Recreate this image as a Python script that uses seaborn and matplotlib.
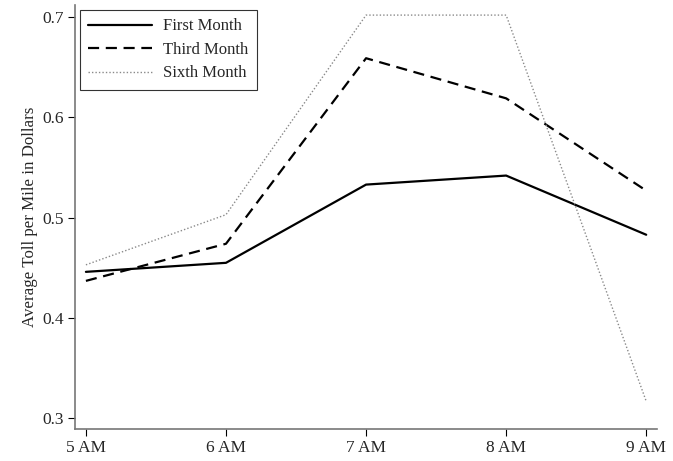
import pandas as pd
import matplotlib.pyplot as plt
import seaborn as sns

# values
hours = ["5 AM", "6 AM", "7 AM", "8 AM", "9 AM"]
first_month = [0.446, 0.455, 0.533, 0.542, 0.483]
third_month = [0.437, 0.474, 0.659, 0.619, 0.527]
sixth_month = [0.453, 0.503, 0.702, 0.702, 0.317]
series_names = ["First Month", "Third Month", "Sixth Month"]

df = pd.DataFrame({
    "hour": list(range(len(hours))) * 3,
    "toll": first_month + third_month + sixth_month,
    "series": [s for s in series_names for _ in hours],
})

sns.set_style("ticks")
plt.rcParams["font.family"] = ["Liberation Serif", "DejaVu Serif"]

fig = plt.figure(figsize=(6.73, 4.61), dpi=100)
ax = fig.add_axes([0.111, 0.0694, 0.865, 0.9196])

styles = {
    "First Month": dict(color="black", ls="-", lw=1.6),
    "Third Month": dict(color="black", ls=(0, (5, 3)), lw=1.6),
    "Sixth Month": dict(color="#8a8a8a", ls=(0, (1, 1.5)), lw=1.0),
}
for name in series_names:
    sub = df[df["series"] == name]
    sns.lineplot(data=sub, x="hour", y="toll", ax=ax, label=name, **styles[name])

ax.set_xlim(-0.08, 4.076)
ax.set_ylim(0.2893, 0.712)
ax.set_xticks(range(len(hours)))
ax.set_xticklabels(hours)
ax.set_yticks([0.3, 0.4, 0.5, 0.6, 0.7])
ax.set_yticklabels(["0.3", "0.4", "0.5", "0.6", "0.7"])
ax.tick_params(labelsize=12.5, length=5, width=0.8, color="black", pad=3)
ax.set_xlabel("")
ax.set_ylabel("Average Toll per Mile in Dollars", fontsize=12.2, labelpad=3)

for side in ["top", "right"]:
    ax.spines[side].set_visible(False)
for side in ["left", "bottom"]:
    ax.spines[side].set_color("#777777")
    ax.spines[side].set_linewidth(1.2)

leg = ax.legend(loc="upper left", bbox_to_anchor=(0.009, 0.988), borderaxespad=0,
                fontsize=12, frameon=True, fancybox=False, handlelength=3.8,
                borderpad=0.5, labelspacing=0.45, handletextpad=0.7)
leg.get_frame().set_edgecolor("black")
leg.get_frame().set_linewidth(0.8)

fig.savefig("out.png", dpi=100)
